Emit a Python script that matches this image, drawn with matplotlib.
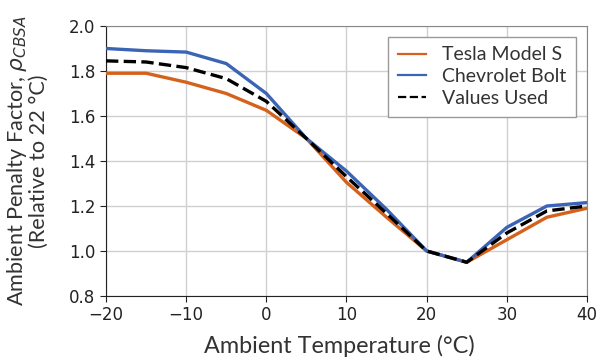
import matplotlib
matplotlib.use("Agg")
import matplotlib.pyplot as plt

temps = [-20, -15, -10, -5, 0, 5, 10, 15, 20, 25, 30, 35, 40]
tesla = [1.79, 1.79, 1.75, 1.70, 1.625, 1.50, 1.305, 1.15, 1.00, 0.95, 1.05, 1.15, 1.19]
bolt = [1.90, 1.89, 1.884, 1.833, 1.70, 1.50, 1.355, 1.185, 1.00, 0.95, 1.105, 1.20, 1.215]
used = [1.845, 1.84, 1.815, 1.766, 1.665, 1.50, 1.33, 1.167, 1.00, 0.95, 1.08, 1.178, 1.20]
xticks = [-20, -10, 0, 10, 20, 30, 40]
yticks = [0.8, 1.0, 1.2, 1.4, 1.6, 1.8, 2.0]

fig = plt.figure(figsize=(5.97, 3.6), dpi=100)
ax = fig.add_axes([0.1776, 0.1778, 0.8056, 0.75])

ax.plot(temps, tesla, color="#d4621c", lw=2.4, label="Tesla Model S", zorder=3)
ax.plot(temps, bolt, color="#3c64b4", lw=2.4, label="Chevrolet Bolt", zorder=3)
ax.plot(temps, used, color="black", lw=2.4, ls=(0, (3.7, 1.6)), label="Values Used", zorder=4)

ax.set_xlim(-20, 40)
ax.set_ylim(0.8, 2.0)
ax.set_xticks(xticks)
ax.set_yticks(yticks)
ax.set_yticklabels([f"{v:.1f}" for v in yticks])
ax.grid(True, color="#d0d0d0", lw=1.0)
ax.set_axisbelow(True)
ax.tick_params(labelsize=12, colors="#222222", length=4)
for s in ["top", "right"]:
    ax.spines[s].set_color("#888888")
for s in ["left", "bottom"]:
    ax.spines[s].set_color("#222222")

txtcol = "#333333"
ax.set_xlabel("Ambient Temperature (°C)", fontsize=16.8, family="Lato", color=txtcol)
ax.xaxis.set_label_coords(0.486, -0.145)
ax.set_ylabel("Ambient Penalty Factor, $\\rho_{CBSA}$\n(Relative to 22 °C)", fontsize=15.6, family="Lato",
              color=txtcol, linespacing=1.0)
ax.yaxis.set_label_coords(-0.118, 0.5)

leg = ax.legend(loc="upper right", prop={"family": "Lato", "size": 14}, fancybox=False,
                edgecolor="#999999", framealpha=1, handlelength=1.45, handletextpad=0.85,
                borderaxespad=0.55, labelspacing=0.25, borderpad=0.5)
leg.get_frame().set_linewidth(1.0)
for t in leg.get_texts():
    t.set_color(txtcol)
for ln in leg.get_lines():
    ln.set_linewidth(1.6)

fig.savefig("out.png", dpi=100)
